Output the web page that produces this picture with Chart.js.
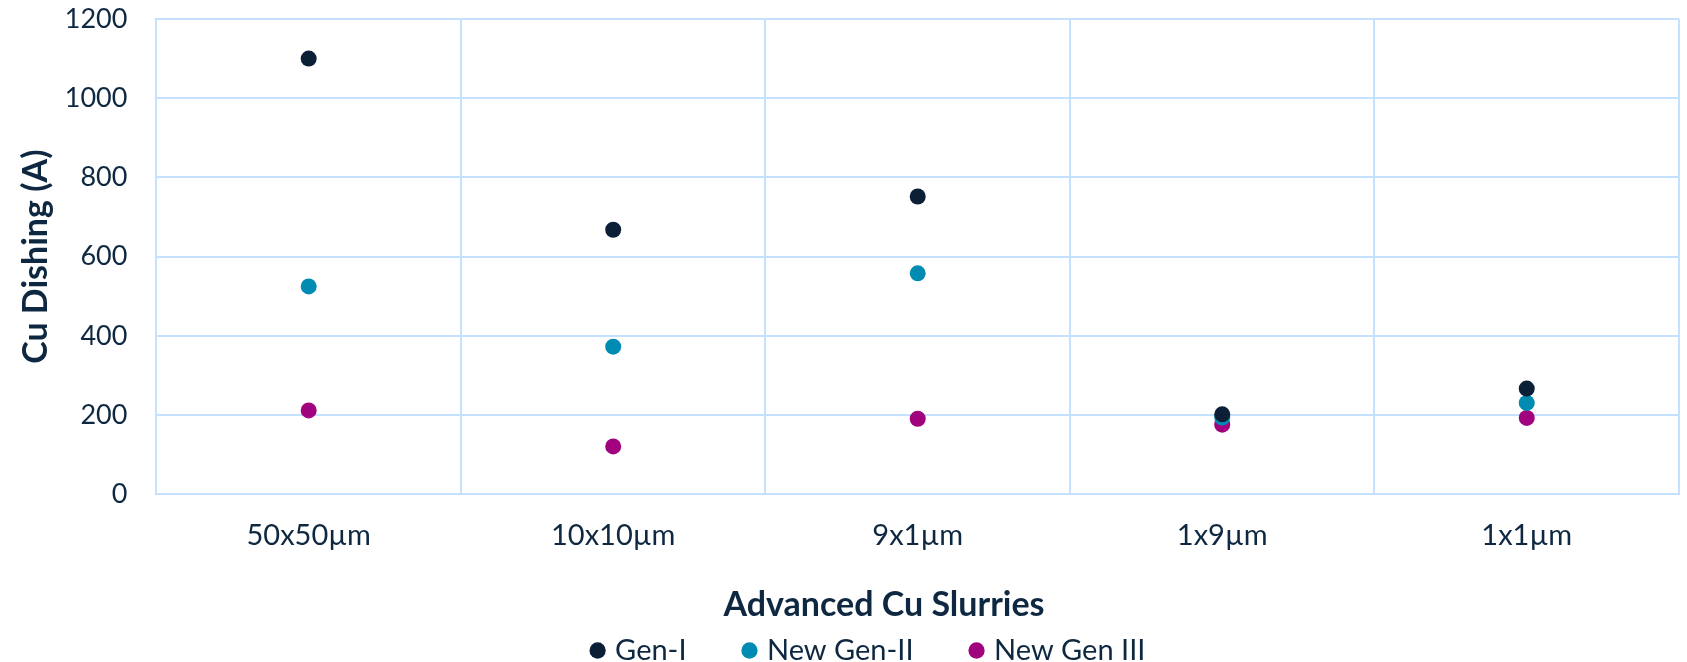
<!DOCTYPE html>
<html>
<head>
<meta charset="utf-8">
<script src="https://cdn.jsdelivr.net/npm/chart.js@4.4.1/dist/chart.umd.min.js"></script>
<style>
  html, body { margin: 0; padding: 0; background: #ffffff; }
  #wrap { width: 1687px; height: 662px; position: relative; }
</style>
</head>
<body>
<div id="wrap"><canvas id="c"></canvas></div>
<script>
const categories = ["50x50\u00b5m", "10x10\u00b5m", "9x1\u00b5m", "1x9\u00b5m", "1x1\u00b5m"];
const genI = [1100, 668, 752, 202, 267];
const newGenII = [525, 373, 558, 194, 231];
const newGenIII = [212, 121, 191, 176, 193];
const seriesNames = ["Gen-I", "New Gen-II", "New Gen III"];
const yTicks = [0, 200, 400, 600, 800, 1000, 1200];
const xTitle = "Advanced Cu Slurries";
const yTitle = "Cu Dishing (A)";

const textColor = "#0E2841";
const gridColor = "#C4E2FF";
const colors = ["#0B1F37", "#008BB2", "#A1037E"];
const FONT = "Lato";
const LEGEND_SIZE = 29;
const LEGEND_GAP = 53; // extra px between legend entries

const ds = [genI, newGenII, newGenIII].map((d, i) => ({
  label: seriesNames[i],
  data: d,
  showLine: false,
  pointRadius: 8,
  pointHoverRadius: 8,
  pointBackgroundColor: colors[i],
  pointBorderColor: colors[i],
  pointBorderWidth: 0,
  backgroundColor: colors[i],
  borderColor: colors[i]
}));

// shift the bottom title and legend horizontally to match the reference layout
const shiftPlugin = {
  id: "shiftBlocks",
  afterLayout(chart) {
    if (chart.legend) { chart.legend.left += 24; chart.legend.right += 24; }
    if (chart.titleBlock) { chart.titleBlock.left += 38; chart.titleBlock.right += 38; }
  }
};

new Chart(document.getElementById("c"), {
  type: "line",
  data: { labels: categories, datasets: ds },
  plugins: [shiftPlugin],
  options: {
    responsive: true,
    maintainAspectRatio: false,
    animation: false,
    events: [],
    layout: { padding: { left: 8, right: 3, top: 19, bottom: -13 } },
    plugins: {
      tooltip: { enabled: false },
      title: {
        display: true,
        position: "bottom",
        weight: 500,
        text: xTitle,
        color: textColor,
        padding: { top: 31, bottom: 3 },
        font: { family: FONT, size: 34, weight: "bold", lineHeight: 1.2 }
      },
      legend: {
        position: "bottom",
        weight: 1000,
        labels: {
          usePointStyle: true,
          pointStyle: "circle",
          boxWidth: 6,
          boxHeight: 11.5,
          padding: 8,
          color: textColor,
          font: { family: FONT, size: LEGEND_SIZE },
          generateLabels(chart) {
            const items = Chart.defaults.plugins.legend.labels.generateLabels(chart);
            const ctx = chart.ctx;
            ctx.save();
            ctx.font = LEGEND_SIZE + "px " + FONT;
            const sw = ctx.measureText(" ").width || 7;
            ctx.restore();
            const n = Math.max(0, Math.round(LEGEND_GAP / sw));
            items.forEach((it, i) => {
              if (i < items.length - 1) it.text = it.text + " ".repeat(n);
            });
            return items;
          }
        }
      }
    },
    scales: {
      x: {
        offset: true,
        grid: { offset: true, color: gridColor, lineWidth: 2, drawTicks: true, tickLength: 24, tickColor: "rgba(0,0,0,0)" },
        border: { color: gridColor, width: 2 },
        ticks: { color: textColor, padding: 0, maxRotation: 0, font: { family: FONT, size: 29 } },
        title: { display: false }
      },
      y: {
        min: 0,
        max: 1200,
        afterBuildTicks: (axis) => { axis.ticks = yTicks.map(v => ({ value: v })); },
        grid: { color: gridColor, lineWidth: 2, drawTicks: true, tickLength: 29, tickColor: "rgba(0,0,0,0)" },
        border: { color: gridColor, width: 2 },
        ticks: {
          color: textColor,
          padding: 0,
          font: { family: FONT, size: 27 },
          callback: (v) => String(v)
        },
        title: {
          display: true,
          text: yTitle,
          color: textColor,
          padding: { top: 8, bottom: 8 },
          font: { family: FONT, size: 34, weight: "bold", lineHeight: 1.2 }
        }
      }
    }
  }
});
</script>
</body>
</html>
